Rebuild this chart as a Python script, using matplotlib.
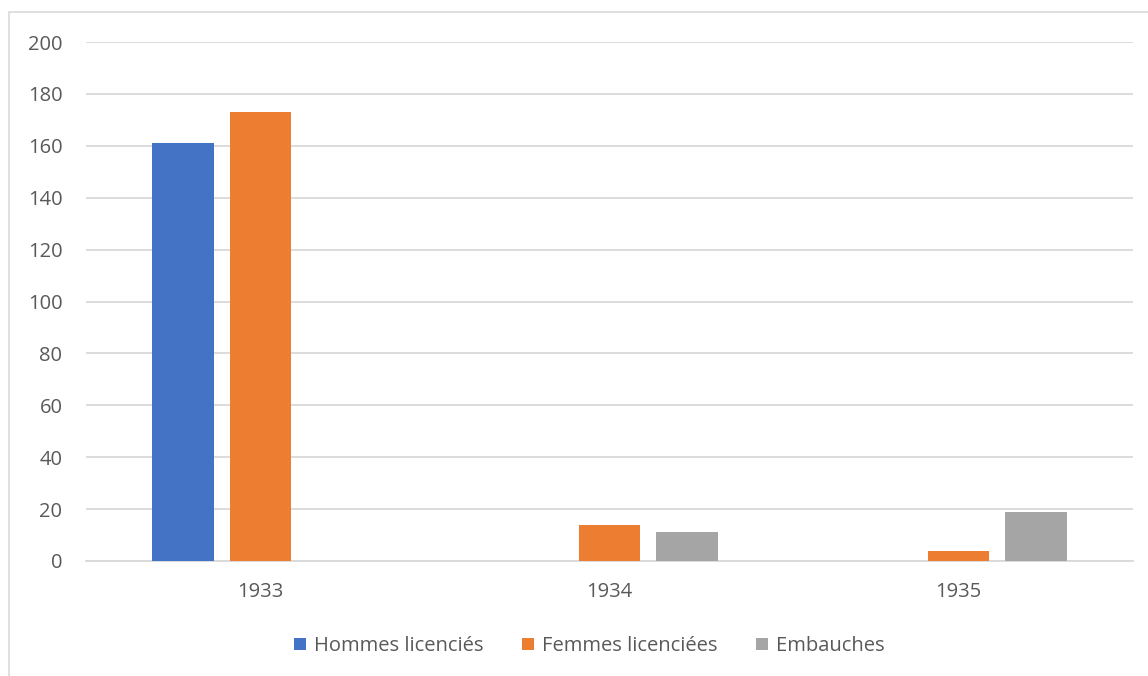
import numpy as np
import matplotlib.pyplot as plt
from matplotlib.patches import Rectangle

years = ["1933", "1934", "1935"]
hommes = [161, 0, 0]
femmes = [173, 14, 4]
embauches = [0, 11, 19]

series = [
    ("Hommes licenciés", hommes, "#4472c4"),
    ("Femmes licenciées", femmes, "#ed7d31"),
    ("Embauches", embauches, "#a5a5a5"),
]

plt.rcParams["font.family"] = ["Open Sans", "DejaVu Sans"]

fig = plt.figure(figsize=(11.48, 6.76), dpi=100)
ax = fig.add_axes([86 / 1148, 1 - 561 / 676, 1047 / 1148, 519 / 676])

x = np.arange(len(years))
width = 0.175
step = 0.222
for i, (name, vals, color) in enumerate(series):
    ax.bar(x + (i - 1) * step, vals, width, color=color, label=name, zorder=3)

ax.set_xlim(-0.5, 2.5)
ax.set_ylim(0, 200)
ax.set_yticks(range(0, 201, 20))
ax.set_xticks(x)
ax.set_xticklabels(years)
ax.grid(axis="y", color="#d9d9d9", linewidth=1.3, zorder=0)
for side in ["top", "right", "left"]:
    ax.spines[side].set_visible(False)
ax.spines["bottom"].set_color("#d9d9d9")
ax.spines["bottom"].set_linewidth(1.3)
ax.tick_params(length=0, labelsize=14.5, labelcolor="#595959")
ax.tick_params(axis="x", pad=15)
ax.tick_params(axis="y", pad=17)

fig.legend(loc="center", bbox_to_anchor=(589 / 1148, 1 - 646 / 676), ncol=3, frameon=False,
           fontsize=14.5, labelcolor="#595959", handlelength=0.6, handleheight=0.6,
           columnspacing=1.9, handletextpad=0.4)

# chart border (only left and top edges visible in the picture)
fig.patches.append(Rectangle((8.5 / 1148, -0.1), 1.2, 0.1 + 1 - 12.5 / 676,
                             transform=fig.transFigure, fill=False,
                             edgecolor="#d9d9d9", linewidth=1.2))

fig.savefig("out.png", dpi=100)
